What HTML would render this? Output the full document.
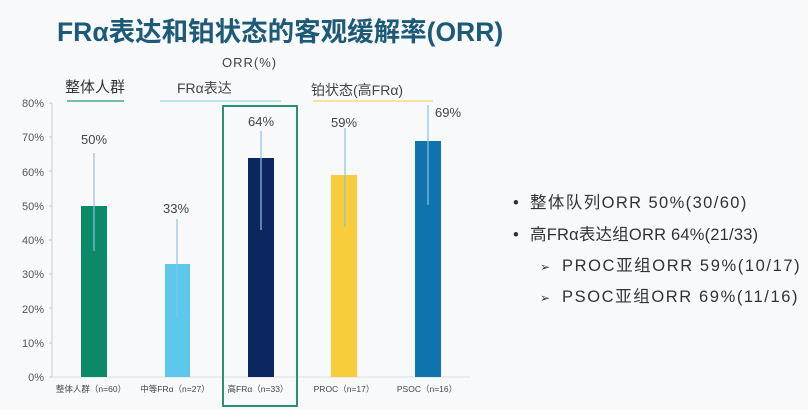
<!DOCTYPE html>
<html><head><meta charset="utf-8"><style>
body{margin:0;background:#f8f9fb;}
svg{display:block;font-family:"Liberation Sans","Noto Sans CJK SC",sans-serif;}
</style></head><body>
<svg width="808" height="410" xmlns="http://www.w3.org/2000/svg">
<rect width="808" height="410" fill="#f8f9fb"/>
<text x="57" y="41" font-size="26.5" font-weight="bold" fill="#1d5a78">FRα表达和铂状态的客观缓解率(ORR)</text>
<text x="222" y="67" font-size="13" fill="#444" letter-spacing="1">ORR(%)</text>
<text x="65" y="92" font-size="15" fill="#333">整体人群</text>
<text x="177" y="93" font-size="14" fill="#444">FRα表达</text>
<text x="311" y="95" font-size="14" fill="#444">铂状态(高FRα)</text>
<line x1="67" y1="101" x2="124" y2="101" stroke="#4da38a" stroke-width="1.5"/>
<line x1="160" y1="101" x2="281" y2="101" stroke="#a8d8ea" stroke-width="1.5"/>
<line x1="313" y1="101" x2="433" y2="101" stroke="#f2dc8a" stroke-width="1.5"/>
<g font-size="11" fill="#555" text-anchor="end">
<text x="44" y="381">0%</text><text x="44" y="347">10%</text><text x="44" y="313">20%</text><text x="44" y="278">30%</text><text x="44" y="244">40%</text><text x="44" y="210">50%</text><text x="44" y="176">60%</text><text x="44" y="141">70%</text><text x="44" y="107">80%</text>
</g>
<line x1="52" y1="103" x2="52" y2="377" stroke="#ccc"/>
<g stroke="#ccc"><line x1="49" y1="103" x2="52" y2="103"/><line x1="49" y1="137" x2="52" y2="137"/><line x1="49" y1="171" x2="52" y2="171"/><line x1="49" y1="206" x2="52" y2="206"/><line x1="49" y1="240" x2="52" y2="240"/><line x1="49" y1="274" x2="52" y2="274"/><line x1="49" y1="308" x2="52" y2="308"/><line x1="49" y1="343" x2="52" y2="343"/><line x1="49" y1="377" x2="52" y2="377"/></g>
<line x1="52" y1="377" x2="470" y2="377" stroke="#ddd"/>
<rect x="81" y="206" width="26" height="171" fill="#0a8a68"/>
<rect x="165" y="264" width="25" height="113" fill="#5cc8ec"/>
<rect x="248" y="158" width="26" height="219" fill="#0b2660"/>
<rect x="331" y="175" width="26" height="202" fill="#f7cd3c"/>
<rect x="415" y="141" width="26" height="236" fill="#0f74ad"/>
<g stroke="#8fc0dc" stroke-width="1.2">
<line x1="94" y1="153" x2="94" y2="251"/>
<line x1="177" y1="219" x2="177" y2="318"/>
<line x1="261" y1="131" x2="261" y2="230"/>
<line x1="345" y1="128" x2="345" y2="227"/>
<line x1="428" y1="105" x2="428" y2="205"/>
</g>
<g font-size="13" fill="#444" text-anchor="middle">
<text x="94" y="144">50%</text><text x="176" y="213">33%</text><text x="261" y="126">64%</text><text x="344" y="127">59%</text><text x="448" y="117">69%</text>
</g>
<rect x="223" y="106" width="74" height="300" fill="none" stroke="#2a8f73" stroke-width="2"/>
<g font-size="8.5" fill="#444" text-anchor="middle">
<text x="91" y="392">整体人群（n=60）</text><text x="175" y="392">中等FRα（n=27）</text><text x="258" y="392">高FRα（n=33）</text><text x="344" y="392">PROC（n=17）</text><text x="427" y="392">PSOC（n=16）</text>
</g>
<g font-size="16.5" fill="#333">
<text x="513" y="208">•</text><text x="530" y="208" letter-spacing="1.4">整体队列ORR 50%(30/60)</text>
<text x="513" y="240">•</text><text x="530" y="240" letter-spacing="0.2">高FRα表达组ORR 64%(21/33)</text>
<text x="540" y="271" font-size="12">➢</text><text x="562" y="271" letter-spacing="1.6">PROC亚组ORR 59%(10/17)</text>
<text x="540" y="302" font-size="12">➢</text><text x="562" y="302" letter-spacing="1.6">PSOC亚组ORR 69%(11/16)</text>
</g>
</svg>
</body></html>
